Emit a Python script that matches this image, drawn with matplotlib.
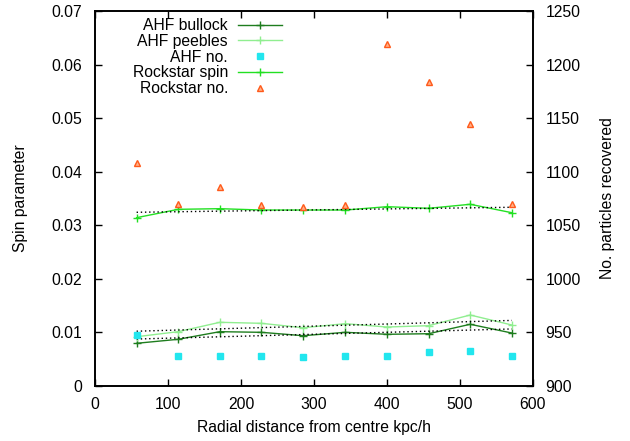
import numpy as np
import matplotlib
matplotlib.use("Agg")
import matplotlib.pyplot as plt

plt.rcParams['font.family'] = ['Liberation Sans', 'DejaVu Sans']
plt.rcParams['font.size'] = 11.3

radius = [57, 114, 171, 228, 285, 343, 400, 457, 514, 571]
ahf_bullock = [0.00797, 0.00872, 0.01014, 0.01002, 0.00939, 0.01002, 0.00965, 0.00976, 0.01152, 0.00989]
ahf_peebles = [0.0092, 0.01014, 0.01189, 0.0117, 0.01088, 0.01163, 0.01101, 0.01126, 0.01325, 0.01139]
rockstar_spin = [0.03142, 0.03298, 0.0331, 0.03285, 0.03285, 0.03285, 0.03347, 0.03317, 0.03392, 0.03235]
ahf_no = [948, 928, 928, 928, 927, 928, 928, 932, 933, 928]
rockstar_no = [1108, 1070, 1086, 1069, 1067, 1069, 1219, 1184, 1145, 1070]

c_bullock = '#1e7d1e'
c_peebles = '#90ee90'
c_rock = '#22e022'
c_ahfno = '#22e6ee'
c_rockno = '#ff5a1a'

fig = plt.figure(figsize=(6.3, 4.41), dpi=100)
ax = fig.add_axes([95/630, 1-386/441, (533-95)/630, (386-11)/441])
ax2 = ax.twinx()

x = np.array(radius, dtype=float)
h1, = ax.plot(x, ahf_bullock, color=c_bullock, lw=1.0, marker='+', ms=6, mew=1.0)
h2, = ax.plot(x, ahf_peebles, color=c_peebles, lw=1.0, marker='+', ms=6, mew=1.0)
h4, = ax.plot(x, rockstar_spin, color=c_rock, lw=1.0, marker='+', ms=6, mew=1.0)
for series in (ahf_bullock, ahf_peebles, rockstar_spin):
    p = np.polyfit(x, series, 1)
    ax.plot(x, np.polyval(p, x), color='black', lw=1.0, ls=(0, (1, 2)))

h3, = ax2.plot(x, ahf_no, ls='none', marker='s', ms=4.5, color=c_ahfno, mec=c_ahfno)
h5, = ax2.plot(x, rockstar_no, ls='none', marker='^', ms=5, mfc='#ffb088', mec=c_rockno, mew=1.0)

ax.set_xlim(0, 600)
ax.set_ylim(0, 0.07)
ax2.set_ylim(900, 1250)
ax.set_xticks(np.arange(0, 601, 100))
ax.set_yticks(np.arange(0, 0.0701, 0.01))
ax.set_yticklabels(['0', '0.01', '0.02', '0.03', '0.04', '0.05', '0.06', '0.07'])
ax2.set_yticks(np.arange(900, 1251, 50))

ax.tick_params(axis='x', direction='in', length=5, width=1, top=True, pad=8)
ax.tick_params(axis='y', direction='in', length=5, width=1, right=False, pad=9)
ax2.tick_params(direction='in', length=5, width=1, pad=9)
for a in (ax, ax2):
    for s in a.spines.values():
        s.set_linewidth(1.2)

ax.set_xlabel('Radial distance from centre kpc/h', labelpad=6)
ax.set_ylabel('Spin parameter', labelpad=17)
ax2.set_ylabel('No. particles recovered', labelpad=14)

leg = ax2.legend([h1, h2, h3, h4, h5],
                 ['AHF bullock', 'AHF peebles', 'AHF no.', 'Rockstar spin', 'Rockstar no.'],
                 loc='upper right', bbox_to_anchor=((282-95)/438, (386-18)/375),
                 markerfirst=False, frameon=False, borderpad=0, handlelength=2.8,
                 handletextpad=0.64, labelspacing=0.05, borderaxespad=0)

fig.savefig('out.png', dpi=100)
